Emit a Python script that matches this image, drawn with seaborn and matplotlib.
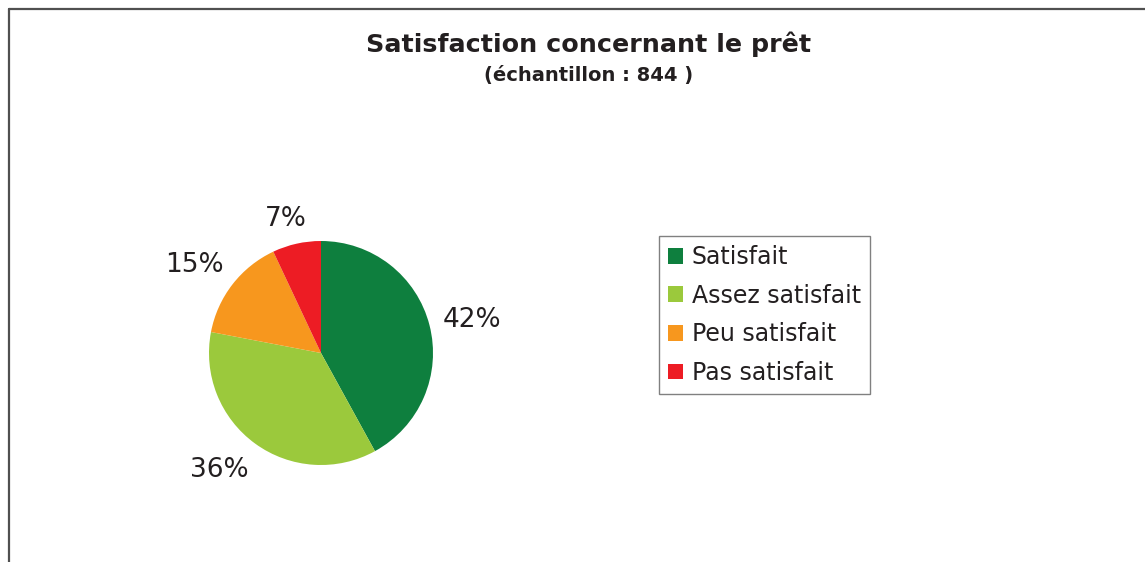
import matplotlib
matplotlib.use("Agg")
import matplotlib.pyplot as plt
from matplotlib.lines import Line2D
from matplotlib.patches import Patch
import numpy as np
import seaborn as sns

# data
categories = ["Satisfait", "Assez satisfait", "Peu satisfait", "Pas satisfait"]
shares = [42, 36, 15, 7]
slice_colors = ["#0E7F3E", "#9BC93C", "#F7971E", "#ED1C24"]

title = "Satisfaction concernant le prêt"
subtitle = "(échantillon : 844 )"

sns.set_style("white")
plt.rcParams["font.family"] = ["DejaVu Sans"]

W, H = 1145, 562
fig = plt.figure(figsize=(W / 100, H / 100), dpi=100)
fig.patch.set_facecolor("white")

# outer frame (top and left edges only visible in the reference)
fig.add_artist(Line2D([9 / W, 1.0], [1 - 9 / H, 1 - 9 / H], transform=fig.transFigure,
                      color="#505050", lw=1.6))
fig.add_artist(Line2D([9 / W, 9 / W], [1 - 9 / H, 0.0], transform=fig.transFigure,
                      color="#505050", lw=1.6))

fig.text(589 / W, 1 - 44 / H, title, ha="center", va="center",
         fontsize=18.3, fontweight="bold", color="#231F20")
fig.text(589 / W, 1 - 75 / H, subtitle, ha="center", va="center",
         fontsize=14, fontweight="bold", color="#231F20")

# pie axes: center (321, 353) px, radius 112 px
cx, cy, r = 321, 353, 112
ax = fig.add_axes([(cx - r) / W, (H - cy - r) / H, 2 * r / W, 2 * r / H])
wedges, _ = ax.pie(
    shares,
    colors=slice_colors,
    startangle=90,
    counterclock=False,
    wedgeprops={"linewidth": 0},
)
# percentage labels placed outside each slice (distance in radii, angle nudge in degrees)
label_dist = [1.38, 1.39, 1.38, 1.24]
label_nudge = [-2, -5, 3, 2]
for w, v, d, n in zip(wedges, shares, label_dist, label_nudge):
    mid = np.deg2rad((w.theta1 + w.theta2) / 2 + n)
    ax.text(d * np.cos(mid), d * np.sin(mid), f"{v}%", ha="center", va="center",
            fontsize=19, color="#231F20")
ax.set_xlim(-1, 1)
ax.set_ylim(-1, 1)
ax.set_aspect("equal")

handles = [Patch(facecolor=c, edgecolor="none", label=l) for c, l in zip(slice_colors, categories)]
leg = fig.legend(
    handles=handles,
    loc="upper left",
    bbox_to_anchor=(659 / W, 1 - 236 / H),
    bbox_transform=fig.transFigure,
    frameon=True,
    fancybox=False,
    fontsize=17,
    handlelength=0.65,
    handleheight=0.65,
    handletextpad=0.35,
    labelspacing=0.62,
    borderpad=0.38,
    borderaxespad=0,
)
leg.get_frame().set_edgecolor("#606060")
leg.get_frame().set_linewidth(1.0)
for t in leg.get_texts():
    t.set_color("#231F20")

fig.savefig("out.png", dpi=100, facecolor="white")
